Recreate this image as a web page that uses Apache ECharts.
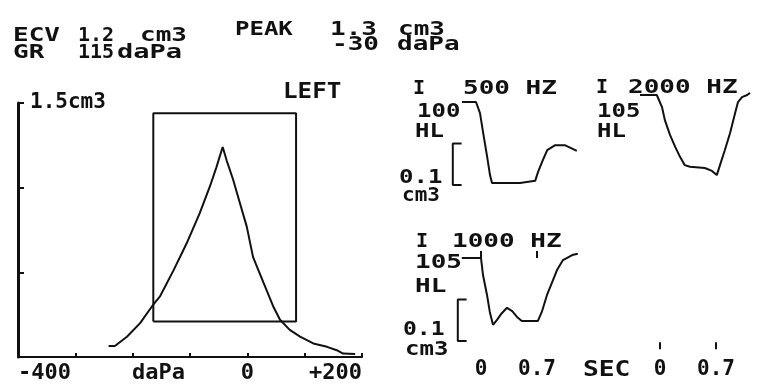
<!DOCTYPE html>
<html>
<head>
<meta charset="utf-8">
<title>Tympanogram LEFT</title>
<script src="https://cdn.jsdelivr.net/npm/echarts@6/dist/echarts.min.js"></script>
<style>
  html, body { margin: 0; background: #fff; }
  #chart { width: 757px; height: 392px; }
</style>
</head>
<body>
<div id="chart"></div>
<script>
// tympanogram: pressure (daPa) vs compliance (cm3)
const tympPressure = [-242, -231, -210, -187, -164, -152, -129, -106, -83, -65, -54, -43, -36, -25, -13, -1, 10, 28, 45, 57, 74, 92, 115, 139, 156, 167, 188]
const tympCompliance = [0.065, 0.065, 0.12, 0.20, 0.31, 0.36, 0.51, 0.67, 0.85, 1.01, 1.12, 1.24, 1.16, 1.05, 0.91, 0.77, 0.59, 0.44, 0.30, 0.22, 0.16, 0.12, 0.08, 0.06, 0.04, 0.02, 0.018]
// normal region box
const boxPressure = [-164, -164, 85, 85, -164]
const boxCompliance = [0.21, 1.44, 1.44, 0.21, 0.21]
const pressureLabelValues = [-400, -155, 0, 200]
const pressureLabelTexts = ['-400', 'daPa', '0', '+200']
const complianceLabelValues = [1.5]
const complianceLabelTexts = ['1.5cm3']

// acoustic reflex traces: time (sec) vs compliance change (cm3)
const time500 = [-0.175, 0, 0.05, 0.09, 0.14, 0.175, 0.2, 0.55, 0.74, 0.775, 0.825, 0.89, 0.99, 1.11, 1.26]
const value500 = [0, 0, -0.027, -0.075, -0.133, -0.176, -0.195, -0.195, -0.19, -0.169, -0.145, -0.116, -0.104, -0.104, -0.118]
const time2000 = [-0.25, -0.04, 0.025, 0.06, 0.125, 0.19, 0.25, 0.31, 0.375, 0.56, 0.65, 0.71, 0.75, 0.81, 0.875, 0.94, 0.975, 1.025, 1.09, 1.125]
const value2000 = [0, 0, -0.029, -0.06, -0.096, -0.125, -0.149, -0.169, -0.173, -0.176, -0.183, -0.193, -0.169, -0.133, -0.092, -0.043, -0.017, -0.005, 0, 0.005]
const time1000 = [-0.24, 0, 0.025, 0.075, 0.11, 0.15, 0.2, 0.26, 0.325, 0.39, 0.45, 0.51, 0.71, 0.76, 0.825, 0.89, 0.95, 1.025, 1.14, 1.21]
const value1000 = [0, 0, -0.041, -0.089, -0.13, -0.161, -0.149, -0.133, -0.12, -0.128, -0.142, -0.152, -0.152, -0.13, -0.089, -0.058, -0.029, -0.005, 0.007, 0.01]
// 0.1 cm3 scale bracket
const bracketTime = [-0.18, -0.29, -0.29, -0.18]
const bracketValue = [-0.1, -0.1, -0.2, -0.2]
const timeTickValues = [0, 0.7]
const timeTickTexts = ['0', '0.7']

const FONT = '"DejaVu Sans Mono", monospace'
const INK = '#111'

const zip = (xs, ys) => xs.map((x, i) => [x, ys[i]])

// printer letters are wider than the font, so stretch them sideways
function printText(str, left, cy, size, stretch) {
  return {
    type: 'text',
    x: left,
    y: cy,
    scaleX: stretch || 1.3,
    silent: true,
    style: { text: str, fontSize: size, fontFamily: FONT, fontWeight: 'bold', fill: INK, align: 'left', verticalAlign: 'middle' }
  }
}

const chart = echarts.init(document.getElementById('chart'))

const hiddenAxis = (grid, min, max) => ({ type: 'value', gridIndex: grid, min: min, max: max, show: false })
const timeAxis = (grid) => ({
  type: 'value',
  gridIndex: grid,
  min: -0.45,
  max: grid === 3 ? 1.2 : 1.35,
  axisLine: { show: false },
  splitLine: { show: false },
  axisTick: { inside: true, length: 7, customValues: timeTickValues, lineStyle: { color: INK, width: 2 } },
  axisLabel: {
    customValues: timeTickValues,
    formatter: (v) => timeTickTexts[timeTickValues.indexOf(v)],
    margin: 10,
    fontSize: 21,
    fontWeight: 'bold',
    fontFamily: FONT,
    color: INK
  }
})
const trace = (x, y, data) => ({
  type: 'line',
  xAxisIndex: x,
  yAxisIndex: y,
  data: data,
  showSymbol: false,
  silent: true,
  lineStyle: { color: INK, width: 2 }
})

const option = {
  backgroundColor: '#fff',
  animation: false,
  grid: [
    { left: 18, top: 103, width: 344, height: 254, outerBoundsMode: 'none' },
    { left: 440, top: 81.25, width: 144, height: 124.5, outerBoundsMode: 'none' },
    { left: 624, top: 74.25, width: 132, height: 124.5, outerBoundsMode: 'none' },
    { left: 624, top: 300, width: 132, height: 49.3, outerBoundsMode: 'none' },
    { left: 445, top: 237.25, width: 144, height: 112.05, outerBoundsMode: 'none' }
  ],
  xAxis: [
    {
      type: 'value',
      gridIndex: 0,
      min: -400,
      max: 200,
      interval: 100,
      axisLine: { onZero: false, lineStyle: { color: INK, width: 2 } },
      axisTick: { inside: true, length: 4, lineStyle: { color: INK, width: 2 } },
      splitLine: { show: false },
      axisLabel: {
        customValues: pressureLabelValues,
        formatter: (v) => pressureLabelTexts[pressureLabelValues.indexOf(v)],
        alignMinLabel: 'left',
        alignMaxLabel: 'right',
        margin: 5,
        fontSize: 22,
        fontWeight: 'bold',
        fontFamily: FONT,
        color: INK
      }
    },
    hiddenAxis(1, -0.45, 1.35),
    hiddenAxis(2, -0.45, 1.2),
    timeAxis(3),
    timeAxis(4)
  ],
  yAxis: [
    {
      type: 'value',
      gridIndex: 0,
      min: 0,
      max: 1.5,
      interval: 0.5,
      axisLine: { show: true, onZero: false, lineStyle: { color: INK, width: 3 } },
      axisTick: { show: true, inside: true, length: 6, lineStyle: { color: INK, width: 2 } },
      splitLine: { show: false },
      axisLabel: {
        customValues: complianceLabelValues,
        formatter: (v) => complianceLabelTexts[complianceLabelValues.indexOf(v)],
        inside: true,
        margin: 12,
        padding: [0, 0, 10, 0],
        fontSize: 21,
        fontWeight: 'bold',
        fontFamily: FONT,
        color: INK
      }
    },
    hiddenAxis(1, -0.25, 0.05),
    hiddenAxis(2, -0.25, 0.05),
    hiddenAxis(3, 0, 1),
    hiddenAxis(4, -0.22, 0.05)
  ],
  graphic: [
    printText('ECV', 13, 35.5, 20),
    printText('1.2', 78, 35.5, 20, 1),
    printText('cm3', 140, 35.5, 20),
    printText('GR', 13, 52.5, 20),
    printText('115', 78, 52.5, 20, 1),
    printText('daPa', 117, 52.5, 20, 1.35),
    printText('PEAK', 235, 29.5, 20, 1.2),
    printText('1.3', 330, 29.5, 20),
    printText('cm3', 398, 29.5, 20),
    printText('-30', 332, 44.5, 20),
    printText('daPa', 397, 44.5, 20),
    printText('LEFT', 283, 92, 22, 1.1),
    // 500 HZ
    printText('I', 413, 89, 20, 1),
    printText('500 HZ', 463, 89, 20),
    printText('100', 417, 112, 20, 1.2),
    printText('HL', 415, 132, 20, 1.2),
    printText('0.1', 399, 178, 20, 1.2),
    printText('cm3', 402, 196, 20, 1.05),
    // 2000 HZ
    printText('I', 596, 88, 20, 1),
    printText('2000 HZ', 628, 88, 20),
    printText('105', 597, 112, 20, 1.2),
    printText('HL', 597, 132, 20, 1.2),
    // 1000 HZ
    printText('I', 416, 242, 20, 1),
    printText('1000 HZ', 452, 242, 20),
    printText('105', 415, 263, 20, 1.3),
    printText('HL', 415, 287, 20, 1.3),
    printText('0.1', 403, 330, 20, 1.15),
    printText('cm3', 405, 350, 20, 1.2),
    printText('SEC', 583, 370.5, 21, 1.25)
  ],
  series: [
    trace(0, 0, zip(tympPressure, tympCompliance)),
    trace(0, 0, zip(boxPressure, boxCompliance)),
    trace(1, 1, zip(time500, value500)),
    trace(1, 1, zip(bracketTime, bracketValue)),
    trace(2, 2, zip(time2000, value2000)),
    trace(4, 4, zip(time1000, value1000)),
    trace(4, 4, zip(bracketTime, bracketValue))
  ]
}

chart.setOption(option)
</script>
</body>
</html>
